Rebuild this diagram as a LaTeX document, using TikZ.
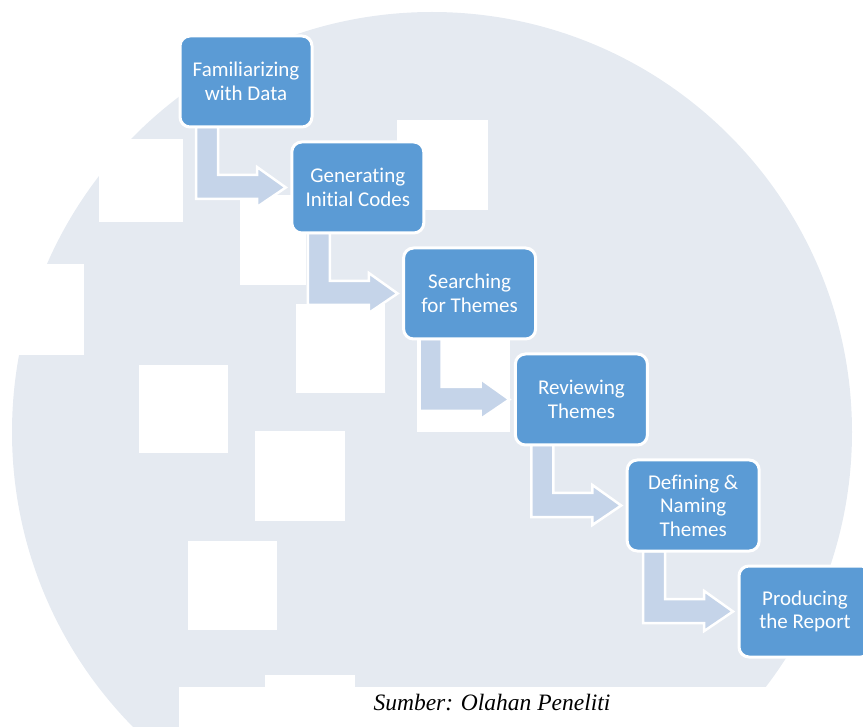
\documentclass[tikz,border=0pt]{standalone}
\usepackage{fontspec}
\setmainfont{Carlito}[Ligatures=NoCommon]
\newfontfamily\capfont{Liberation Serif}
\usetikzlibrary{calc}
\definecolor{boxblue}{HTML}{5B9BD5}
\definecolor{arrowblue}{HTML}{C5D4E9}
\definecolor{wmgray}{HTML}{E5EAF1}
\pgfdeclarelayer{bglayer}
\pgfdeclarelayer{midlayer}
\pgfsetlayers{bglayer,midlayer,main}
\begin{document}
\begin{tikzpicture}[x=1pt,y=-1pt,
  stepbox/.style={draw=white, line width=3pt, fill=boxblue, rounded corners=10pt,
    minimum width=132pt, minimum height=91pt, inner sep=0pt, outer sep=0pt,
    align=center, text=white, font=\fontsize{21}{23.5}\selectfont, anchor=north west},
  bentarrow/.style={fill=arrowblue, draw=white, line width=2.5pt, line join=miter},
  wsq/.style={fill=white}]
\useasboundingbox (0,0) rectangle (863,727);

\begin{pgfonlayer}{bglayer}
\fill[wmgray] (432,432) circle[radius=420pt];
\fill[wsq] (99,139) rectangle (183,222);
\fill[wsq] (397,120) rectangle (488,210);
\fill[wsq] (240,195) rectangle (306,285);
\fill[wsq] (16,264) rectangle (84,355);
\fill[wsq] (296,304) rectangle (385,393);
\fill[wsq] (139,365) rectangle (228,453);
\fill[wsq] (417,340) rectangle (510,432);
\fill[wsq] (255,431) rectangle (345,521);
\fill[wsq] (188,541) rectangle (277,630);
\fill[wsq] (179,687) rectangle (863,727);
\fill[wsq] (265,675) rectangle (355,688);
\end{pgfonlayer}

\node[stepbox] (b1) at (180,36) {Familiarizing\\with Data};
\node[stepbox] (b2) at (291.8,142) {Generating\\Initial Codes};
\node[stepbox] (b3) at (403.6,248) {Searching\\for Themes};
\node[stepbox] (b4) at (515.4,354) {Reviewing\\Themes};
\node[stepbox] (b5) at (627.2,460) {Defining \&\\Naming\\Themes};
\node[stepbox] (b6) at (739,566) {Producing\\the Report};

\begin{pgfonlayer}{midlayer}
\foreach \a/\b in {b1/b2,b2/b3,b3/b4,b4/b5,b5/b6}{
  \draw[bentarrow]
    ($(\a.south west)+(16,0)$) -- ($(\a.south west)+(38,0)$)
    -- ($(\a.south west)+(38,48)$) -- ($(\a.south west)+(77,48)$)
    -- ($(\a.south west)+(77,40)$) -- ($(\b.west)+(-6,0)$)
    -- ($(\a.south west)+(77,80)$) -- ($(\a.south west)+(77,72)$)
    -- ($(\a.south west)+(16,72)$) -- cycle;
}
\end{pgfonlayer}

\node[font=\capfont\itshape\fontsize{23.5}{28}\selectfont, anchor=base] (cap) at (492,710) {Sumber: Olahan Peneliti};
\end{tikzpicture}
\end{document}
